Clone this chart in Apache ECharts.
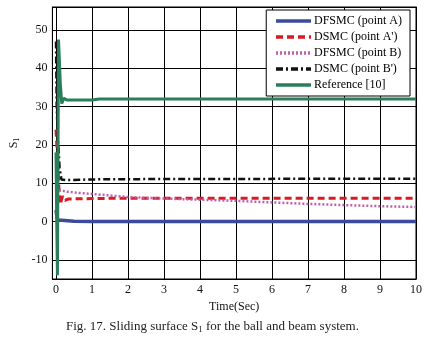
<!DOCTYPE html>
<html>
<head>
<meta charset="utf-8">
<script src="https://cdn.jsdelivr.net/npm/echarts@6/dist/echarts.min.js"></script>
<style>
  html, body { margin: 0; padding: 0; background: #fff; }
  #grafica { width: 426px; height: 347px; }
</style>
</head>
<body>
<div id="grafica"></div>
<script>
// Datos (tiempo en segundos, valor de S1)
const tiempoA = [0, 0.03, 0.06, 0.1, 0.5, 1, 2.5, 5, 10];
const dfsmcA = [3, 1, 0.4, 0.3, 0.1, 0, 0, 0, 0];

const tiempoA2 = [0, 0.04, 0.08, 0.12, 0.18, 0.25, 0.35, 1, 2, 5, 10];
const dsmcA2 = [24, 17, 9, 4.5, 6.6, 5.5, 5.9, 6, 6.1, 6.1, 6.1];

const tiempoB = [0.08, 0.3, 0.6, 1, 2, 3, 4, 5, 6, 7, 8, 9, 10];
const dfsmcB = [8.2, 7.8, 7.5, 7.2, 6.4, 6.0, 5.7, 5.4, 5.0, 4.6, 4.3, 4.0, 3.8];

const tiempoB2 = [0, 0.02, 0.05, 0.1, 0.15, 0.3, 1, 3, 5, 8, 10];
const dsmcB2 = [47, 30, 22, 14, 11, 10.8, 11, 11.1, 11.1, 11.2, 11.2];

const tiempoRef = [0, 0.02, 0.04, 0.07, 0.12, 0.16, 0.22, 0.3, 1, 1.2, 5, 10];
const referencia = [18, 0, -14, 47.5, 36, 30.8, 32.2, 31.7, 31.7, 32, 32, 32];

// Marcas de los ejes
const marcasX = [0, 1, 2, 3, 4, 5, 6, 7, 8, 9, 10];
const marcasY = [-10, 0, 10, 20, 30, 40, 50];

const nombres = ['DFSMC (point A)', "DSMC (point A')", 'DFSMC (point B)', "DSMC (point B')", 'Reference [10]'];

const fuente = '"Liberation Serif", "Times New Roman", serif';

const juntar = (xs, ys) => xs.map((x, i) => [x, ys[i]]);

const myChart = echarts.init(document.getElementById('grafica'));

const ejeX = (extra) => Object.assign({
    type: 'value',
    min: -0.1,
    max: 10,
    axisLine: { show: true, onZero: false, lineStyle: { color: '#000' } },
    axisTick: { show: true, inside: true, length: 3, customValues: marcasX, lineStyle: { color: '#000' } }
}, extra);

const ejeY = (extra) => Object.assign({
    type: 'value',
    min: -15,
    max: 56,
    axisLine: { show: true, onZero: false, lineStyle: { color: '#000' } },
    axisTick: { show: true, inside: true, length: 3, customValues: marcasY, lineStyle: { color: '#000' } }
}, extra);

let option = {
    animation: false,
    textStyle: { fontFamily: fuente },
    // Pie de figura
    title: {
        text: 'Fig. 17. Sliding surface S{sub|1} for the ball and beam system.',
        left: 61,
        top: 314,
        textStyle: {
            fontFamily: fuente,
            fontSize: 13,
            fontWeight: 'normal',
            color: '#222',
            rich: {
                sub: { fontFamily: fuente, fontSize: 9, color: '#222', verticalAlign: 'bottom', padding: [6, 0, 0, 0] }
            }
        }
    },
    grid: {
        left: 52,
        right: 10,
        top: 7,
        bottom: 68,
        show: true,
        borderColor: '#000',
        borderWidth: 1
    },
    legend: {
        orient: 'vertical',
        right: 16,
        top: 10,
        width: 139,
        padding: [5, 8, 5, 8],
        itemGap: 4,
        itemWidth: 35,
        itemHeight: 12,
        itemStyle: { opacity: 0 },
        lineStyle: { width: 3.5 },
        backgroundColor: '#fff',
        borderColor: '#000',
        borderWidth: 1,
        borderRadius: 0,
        textStyle: { fontFamily: fuente, fontSize: 12, color: '#000', padding: [0, 0, 0, -2] },
        data: nombres
    },
    xAxis: [
        ejeX({
            name: 'Time(Sec)',
            nameLocation: 'middle',
            nameGap: 19,
            nameTextStyle: { fontFamily: fuente, fontSize: 12, color: '#111' },
            axisLabel: { fontFamily: fuente, fontSize: 12, color: '#111', margin: 5, customValues: marcasX },
            splitLine: { show: true, lineStyle: { color: '#000', width: 1 } }
        }),
        ejeX({
            position: 'top',
            axisLabel: { show: false },
            splitLine: { show: false }
        })
    ],
    yAxis: [
        ejeY({
            name: 'S{sub|1}',
            nameLocation: 'middle',
            nameGap: 22,
            nameRotate: 90,
            nameTextStyle: {
                fontFamily: fuente, fontSize: 12, color: '#111',
                rich: { sub: { fontFamily: fuente, fontSize: 8, color: '#111', padding: [0, 0, -5, 0] } }
            },
            axisLabel: { fontFamily: fuente, fontSize: 12, color: '#111', margin: 5, customValues: marcasY },
            splitLine: { show: true, lineStyle: { color: '#000', width: 1 } }
        }),
        ejeY({
            position: 'right',
            axisLabel: { show: false },
            splitLine: { show: false }
        })
    ],
    series: [
        {
            name: nombres[0],
            type: 'line',
            symbol: 'none',
            z: 3,
            lineStyle: { color: '#3B4A9C', width: 3.5 },
            itemStyle: { color: '#3B4A9C' },
            data: juntar(tiempoA, dfsmcA)
        },
        {
            name: nombres[1],
            type: 'line',
            symbol: 'none',
            z: 4,
            lineStyle: { color: '#DA1A22', width: 3, type: [7, 4] },
            itemStyle: { color: '#DA1A22' },
            data: juntar(tiempoA2, dsmcA2)
        },
        {
            name: nombres[2],
            type: 'line',
            symbol: 'none',
            z: 5,
            lineStyle: { color: '#C060A8', width: 2.5, type: [2, 2] },
            itemStyle: { color: '#C060A8' },
            data: juntar(tiempoB, dfsmcB)
        },
        {
            name: nombres[3],
            type: 'line',
            symbol: 'none',
            z: 6,
            lineStyle: { color: '#111', width: 2.5, type: [7, 3, 2, 3] },
            itemStyle: { color: '#111' },
            data: juntar(tiempoB2, dsmcB2)
        },
        {
            name: nombres[4],
            type: 'line',
            symbol: 'none',
            z: 7,
            lineStyle: { color: '#2A7F5A', width: 3 },
            itemStyle: { color: '#2A7F5A' },
            data: juntar(tiempoRef, referencia)
        }
    ]
};

myChart.setOption(option);
</script>
</body>
</html>
